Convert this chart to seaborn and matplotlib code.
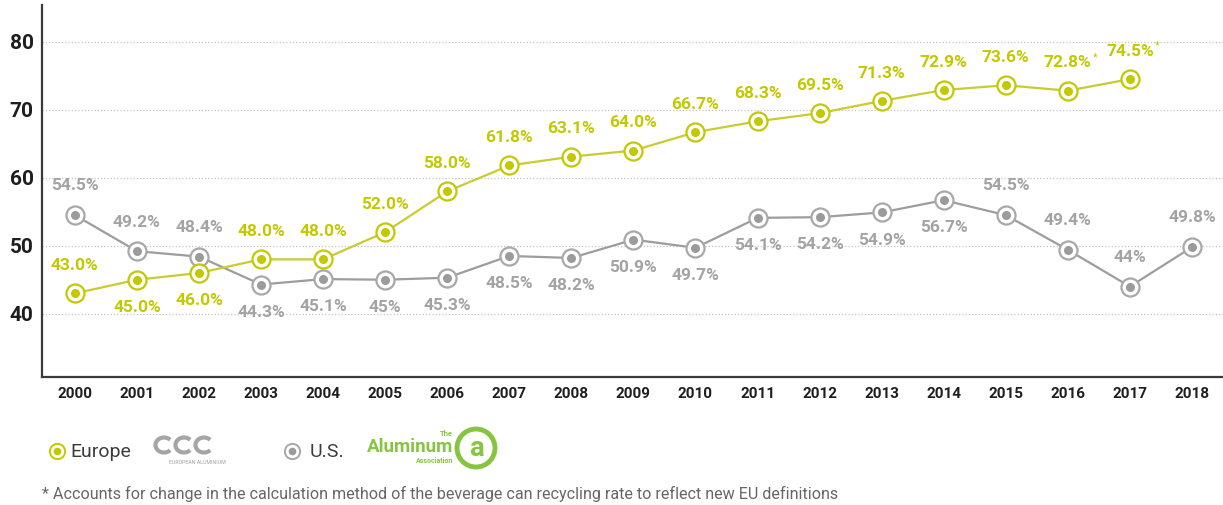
import matplotlib
matplotlib.use("Agg")
import matplotlib.pyplot as plt
from matplotlib.lines import Line2D
from matplotlib.patches import Arc, Circle
import seaborn as sns
import pandas as pd

# ---- data ----
years = list(range(2000, 2019))
europe_years = list(range(2000, 2018))
europe_rate = [43.0, 45.0, 46.0, 48.0, 48.0, 52.0, 58.0, 61.8, 63.1, 64.0,
               66.7, 68.3, 69.5, 71.3, 72.9, 73.6, 72.8, 74.5]
europe_labels = ["43.0%", "45.0%", "46.0%", "48.0%", "48.0%", "52.0%", "58.0%",
                 "61.8%", "63.1%", "64.0%", "66.7%", "68.3%", "69.5%", "71.3%",
                 "72.9%", "73.6%", "72.8%", "74.5%"]
europe_starred = [2016, 2017]
europe_below = [2001, 2002]

us_years = list(range(2000, 2019))
us_rate = [54.5, 49.2, 48.4, 44.3, 45.1, 45.0, 45.3, 48.5, 48.2, 50.9,
           49.7, 54.1, 54.2, 54.9, 56.7, 54.5, 49.4, 44.0, 49.8]
us_labels = ["54.5%", "49.2%", "48.4%", "44.3%", "45.1%", "45%", "45.3%",
             "48.5%", "48.2%", "50.9%", "49.7%", "54.1%", "54.2%", "54.9%",
             "56.7%", "54.5%", "49.4%", "44%", "49.8%"]
us_above = [2000, 2001, 2002, 2015, 2016, 2017, 2018]

y_ticks = [40, 50, 60, 70, 80]
footnote = ("* Accounts for change in the calculation method of the beverage can "
            "recycling rate to reflect new EU definitions")

# ---- style ----
sns.set_style("white")
plt.rcParams["font.family"] = ["Roboto", "DejaVu Sans"]

EU_COLOR = "#c3c800"
EU_LINE = "#c8cc30"
US_COLOR = "#9b9b9b"
US_LINE = "#9d9d9d"
US_TEXT = "#a3a3a3"
AXIS_COLOR = "#3a3a3a"

eu_df = pd.DataFrame({"year": europe_years, "rate": europe_rate})
us_df = pd.DataFrame({"year": us_years, "rate": us_rate})

fig = plt.figure(figsize=(12.23, 5.05), dpi=100)
ax = fig.add_axes([42 / 1223, 1 - 377 / 505, 1 - 42 / 1223, (377 - 5) / 505])

# grid lines only at the labelled ticks
for t in y_ticks:
    ax.axhline(t, color="#c4c4c4", lw=0.9, ls=(0, (1, 1.6)), zorder=0)


def draw_series(df, line_color, mark_color, ring_color):
    sns.lineplot(data=df, x="year", y="rate", ax=ax, color=line_color, lw=1.6,
                 marker="o", markersize=13, markerfacecolor="white",
                 markeredgecolor=ring_color, markeredgewidth=1.6, zorder=3)
    sns.scatterplot(data=df, x="year", y="rate", ax=ax, color=mark_color,
                    s=42, linewidth=0, zorder=4)


draw_series(us_df, US_LINE, US_COLOR, "#a8a8a8")
draw_series(eu_df, EU_LINE, EU_COLOR, EU_COLOR)

lab_kw = dict(textcoords="offset points", ha="center", va="center",
              fontsize=12.5, fontweight="bold")

for yr, v, lab in zip(europe_years, europe_rate, europe_labels):
    dy = -20 if yr in europe_below else 20
    ax.annotate(lab, (yr, v), xytext=(0, dy), color=EU_COLOR, **lab_kw)
    if yr in europe_starred:
        ax.annotate("*", (yr, v), xytext=(20, dy + 4), textcoords="offset points",
                    ha="center", va="center", fontsize=8, color=EU_COLOR)

for yr, v, lab in zip(us_years, us_rate, us_labels):
    dy = 21 if yr in us_above else -20
    ax.annotate(lab, (yr, v), xytext=(0, dy), color=US_TEXT, **lab_kw)

# ---- axes ----
ax.set_xlim(1999.47, 2018.5)
ax.set_ylim(30.7, 85.4)
ax.set_xticks(years)
ax.set_xticklabels([str(y) for y in years], fontsize=11, fontweight="bold",
                   color="#1e1e1e")
ax.set_yticks(y_ticks)
ax.set_yticklabels([str(t) for t in y_ticks], fontsize=15, fontweight="bold",
                   color="#1e1e1e")
ax.tick_params(axis="y", length=0, pad=6)
ax.tick_params(axis="x", length=0, pad=7)
ax.set_xlabel("")
ax.set_ylabel("")
ax.grid(False)
sns.despine(ax=ax, top=True, right=True)
for side in ("left", "bottom"):
    ax.spines[side].set_color(AXIS_COLOR)
    ax.spines[side].set_linewidth(1.6)


# ---- legend row ----
def px(x, y):
    return x / 1223, 1 - y / 505


def legend_marker(x, y, color, ring):
    fx, fy = px(x, y)
    fig.add_artist(Line2D([fx], [fy], marker="o", markersize=11,
                          markerfacecolor="white", markeredgecolor=ring,
                          markeredgewidth=1.4, transform=fig.transFigure))
    fig.add_artist(Line2D([fx], [fy], marker="o", markersize=5.5,
                          markerfacecolor=color, markeredgewidth=0,
                          transform=fig.transFigure))


legend_marker(57, 451, EU_COLOR, EU_COLOR)
fig.text(*px(70, 452), "Europe", fontsize=14, color="#3c3c3c", va="center")
legend_marker(292, 451, US_COLOR, "#a8a8a8")
fig.text(*px(310, 452), "U.S.", fontsize=14, color="#3c3c3c", va="center")

# European Aluminium mark
eaa = fig.add_axes([148 / 1223, 1 - 470 / 505, 98 / 1223, 40 / 505])
eaa.set_xlim(0, 98)
eaa.set_ylim(0, 40)
eaa.axis("off")
for cx in (16, 36, 56):
    eaa.add_patch(Arc((cx, 25), 17, 15, theta1=40, theta2=320,
                      color="#a5a5a5", lw=3.0))
eaa.text(49, 8, "EUROPEAN ALUMINIUM", fontsize=3.8, color="#a0a0a0",
         ha="center", va="center")

# Aluminum Association mark
aa = fig.add_axes([352 / 1223, 1 - 472 / 505, 148 / 1223, 48 / 505])
aa.set_xlim(0, 148)
aa.set_ylim(0, 48)
aa.axis("off")
AA_GREEN = "#86c541"
aa.text(101, 25, "Aluminum", fontsize=13.5, fontweight="bold", color=AA_GREEN,
        va="center", ha="right")
aa.text(101, 39, "The", fontsize=5.5, fontweight="bold", color=AA_GREEN,
        ha="right", va="center")
aa.text(101, 11, "Association", fontsize=5, fontweight="bold", color=AA_GREEN,
        ha="right", va="center")
aa.add_patch(Circle((124, 24), 19, fill=False, ec=AA_GREEN, lw=3.5))
aa.text(124, 23, "a", fontsize=20, fontweight="bold", color=AA_GREEN,
        ha="center", va="center")

fig.text(*px(42, 494), footnote, fontsize=11.6, color="#666666", va="center")

fig.savefig("out.png", dpi=100)
